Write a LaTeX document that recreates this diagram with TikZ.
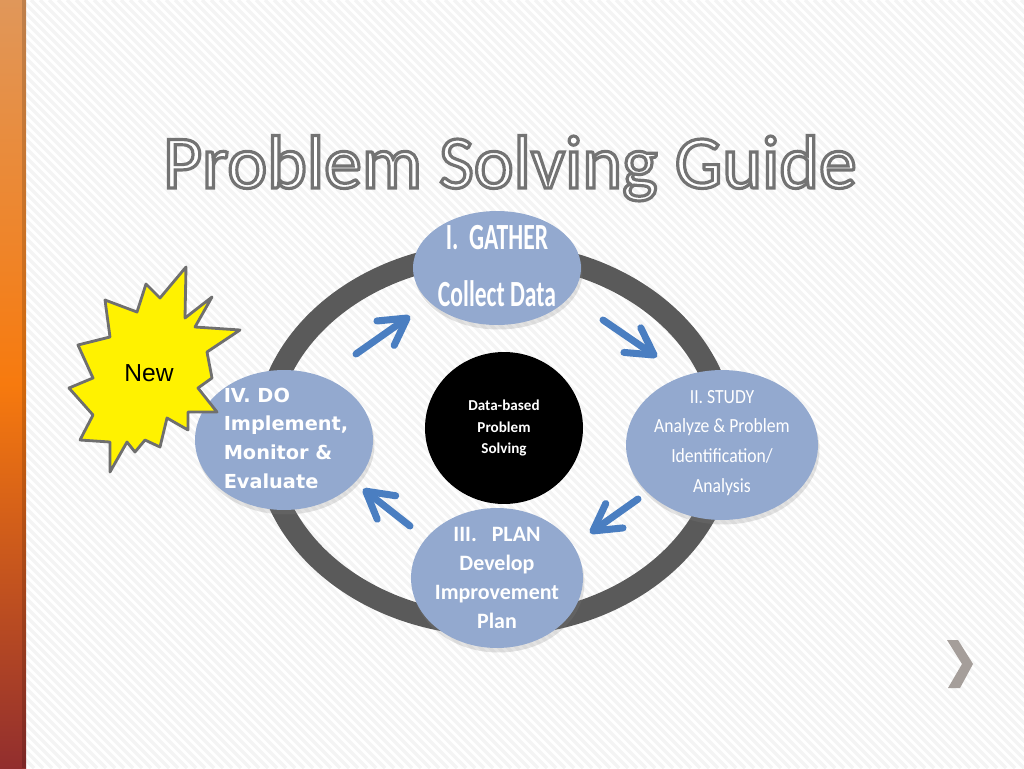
\documentclass[tikz,border=0pt]{standalone}
\usepackage{fontspec}
\setmainfont{Carlito}
\newfontfamily\verdfont{DejaVu Sans}
\newfontfamily\arialfont{Liberation Sans}
\newfontfamily\gatherfont[FakeStretch=0.64]{Carlito}
\newfontfamily\studyfont[FakeStretch=0.88]{Carlito}
\usetikzlibrary{arrows.meta,shapes.geometric,shadows}

\definecolor{blobblue}{HTML}{93A9CF}
\definecolor{ringgray}{HTML}{5A5A5A}
\definecolor{arrowblue}{HTML}{4A7EC1}
\definecolor{burstline}{HTML}{6F6F6F}
\definecolor{chevgray}{HTML}{A59E9A}
\definecolor{bartop}{HTML}{E0975A}
\definecolor{barmid}{HTML}{F77A0E}
\definecolor{barbot}{HTML}{922E2E}

% outlined text: white fill, grey stroke
\newcommand{\outlined}[1]{\textcolor{white}{\special{pdf:literal direct 2 Tr 1.8 w 0.45 G}#1\special{pdf:literal direct 0 Tr 1 w}}}

\begin{document}
\begin{tikzpicture}[
    x=0.02cm, y=-0.02cm,
    stripe/.style={draw=gray!9, line width=2pt},
    blob/.style={ellipse, fill=blobblue, inner sep=0pt,
        drop shadow={shadow xshift=0.3mm, shadow yshift=-0.9mm, opacity=0.22}},
    flow/.style={draw=arrowblue, line width=4pt, line cap=round,
        -{Straight Barb[length=15pt, width=17pt, round]}},
    txt/.style={text=white, align=center, inner sep=0pt},
    burst/.style={fill=yellow, draw=burstline, line width=1.6pt, line join=round}
]
% Page with the striped background and the orange side bar
\useasboundingbox (0,0) rectangle (1024,768);
\fill[white] (0,0) rectangle (1024,768);
\begin{scope}
    \clip (26,0) rectangle (1024,768);
    \foreach \i in {-770,-761,...,1024}
        \draw[stripe] (\i,0) -- ++(768,768);
\end{scope}
\shade[top color=bartop, bottom color=barbot, middle color=barmid] (0,0) rectangle (26,768);
\fill[black, opacity=0.15] (22,0) rectangle (26,768);

% Title
\node[anchor=base, font=\fontsize{43}{50}\selectfont] (title) at (510,188)
    {\outlined{Problem Solving Guide}};

% Cycle ring behind the steps
\coordinate (ringc) at (495,439);
\draw[draw=ringgray, line width=12.5pt] (ringc) ellipse [x radius=230, y radius=186];

% The four steps and the core
\node[blob, minimum width=3.36cm, minimum height=2.28cm] (gather) at (497,268) {};
\node[blob, minimum width=3.84cm, minimum height=3.0cm] (study) at (722,445) {};
\node[blob, minimum width=3.44cm, minimum height=2.8cm] (plan) at (497,578) {};
\node[blob, minimum width=3.56cm, minimum height=2.8cm] (do) at (284,440) {};
\node[ellipse, fill=black, minimum width=3.16cm, minimum height=3.04cm, inner sep=0pt] (core) at (504,428) {};

% Arrows between the steps
\coordinate (a1s) at (356,354); \coordinate (a1e) at (410,316);
\coordinate (a2s) at (603,320); \coordinate (a2e) at (657,357);
\coordinate (a3s) at (638,499); \coordinate (a3e) at (590,533);
\coordinate (a4s) at (410,526); \coordinate (a4e) at (363,489);
\foreach \s/\e in {a1s/a1e, a2s/a2e, a3s/a3e, a4s/a4e}
    \draw[flow] (\s) -- (\e);

% Starburst
\draw[burst] (186,267) -- (185,318) -- (212,297) -- (195,327) -- (240,330)
    -- (207,352) -- (212,378) -- (198,388) -- (217,412) -- (188,412)
    -- (188,430) -- (167,418) -- (160,447) -- (145,440) -- (135,452)
    -- (127,442) -- (110,472) -- (110,442) -- (80,440) -- (93,415)
    -- (69,388) -- (93,378) -- (78,345) -- (110,337) -- (105,300)
    -- (137,312) -- (146,284) -- (160,298) -- cycle;
\node[font=\arialfont\fontsize{14}{16}\selectfont] (newtxt) at (149,373) {New};

% Texts of the steps
\node[txt, font=\gatherfont\bfseries\fontsize{21}{32}\selectfont] (gathertxt) at (497,266)
    {I.\ \ GATHER\\Collect Data};
\node[txt, font=\studyfont\fontsize{11.4}{17}\selectfont] (studytxt) at (722,443)
    {II. STUDY\\Analyze \& Problem\\Identification/\\Analysis};
\node[txt, font=\bfseries\fontsize{12.5}{16.4}\selectfont] (plantxt) at (497,578)
    {III.\ \ \ PLAN\\Develop\\Improvement\\Plan};
\node[txt, align=left, font=\verdfont\bfseries\fontsize{11}{16.3}\selectfont] (dotxt) at (286,438)
    {IV. DO\\Implement,\\Monitor \&\\Evaluate};
\node[txt, font=\bfseries\fontsize{8.6}{12}\selectfont] (coretxt) at (504,428)
    {Data-based\\Problem\\Solving};

% Next-slide chevron
\fill[chevgray] (947,640) -- (958,640) -- (973,664) -- (960,688) -- (948,688) -- (962,664) -- cycle;
\end{tikzpicture}
\end{document}
